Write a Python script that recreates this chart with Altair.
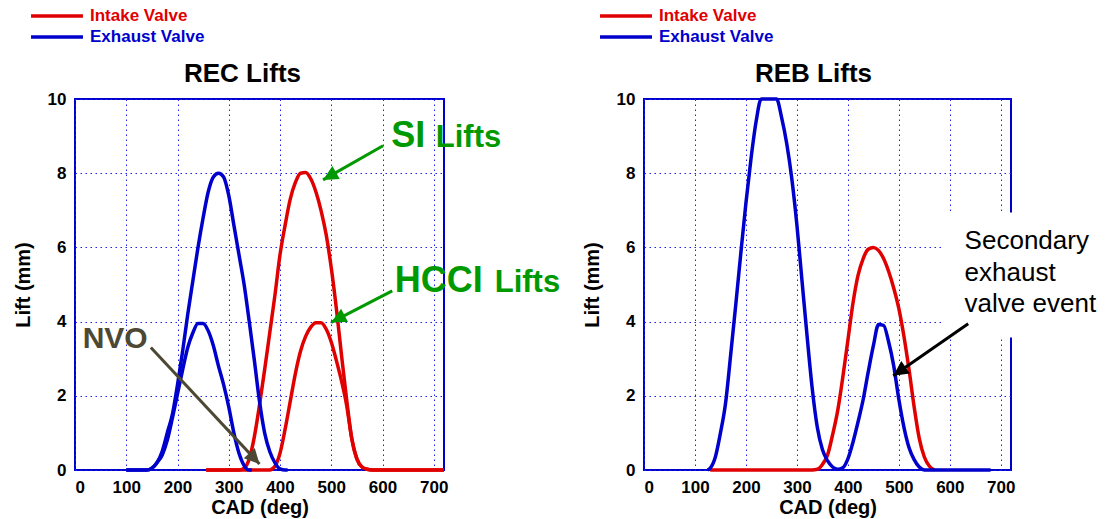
import math
import altair as alt
import pandas as pd

FONT = "Liberation Sans"
RED = "#e00000"
BLUE = "#0000cc"
GREEN = "#009900"
OLIVE = "#4d4833"

valves = ["Intake Valve", "Exhaust Valve"]

# ---------------- REC panel ----------------
rec_exh_si_cad = [100, 140, 150, 160, 170, 180, 190, 200, 210, 220, 230, 240, 250, 260, 270, 280,
                  290, 300, 310, 320, 330, 340, 350, 360, 370, 380, 390, 400, 410, 415]
rec_exh_si_lift = [0, 0, 0.05, 0.2, 0.5, 1.0, 1.5, 2.3, 3.2, 4.2, 5.1, 6.0, 6.8, 7.5, 7.9, 8.0,
                   7.9, 7.4, 6.6, 5.8, 5.0, 4.0, 2.95, 1.85, 1.0, 0.5, 0.2, 0.03, 0, 0]

rec_exh_hcci_cad = [100, 140, 150, 160, 170, 180, 190, 200, 210, 220, 230, 240, 250, 260, 270, 280,
                    290, 300, 310, 320, 330, 340, 345]
rec_exh_hcci_lift = [0, 0, 0.05, 0.2, 0.4, 0.8, 1.4, 2.05, 2.7, 3.3, 3.7, 3.95, 3.95, 3.75, 3.35, 2.8,
                     2.3, 1.7, 1.0, 0.45, 0.12, 0, 0]

rec_int_si_cad = [256, 320, 330, 340, 350, 360, 370, 380, 390, 400, 410, 420, 430, 440, 450, 460, 470,
                  480, 490, 500, 510, 520, 530, 540, 550, 560, 570, 580, 720]
rec_int_si_lift = [0, 0, 0.05, 0.3, 0.9, 1.75, 2.7, 3.7, 4.7, 5.8, 6.6, 7.3, 7.75, 8.0, 8.02, 7.85, 7.5,
                   7.0, 6.35, 5.45, 4.35, 3.1, 1.9, 0.85, 0.3, 0.08, 0.02, 0, 0]

rec_int_hcci_cad = [256, 380, 390, 400, 410, 420, 430, 440, 450, 460, 470, 480, 490, 500, 510, 520,
                    530, 540, 550, 560, 570, 580, 720]
rec_int_hcci_lift = [0, 0, 0.1, 0.45, 1.1, 1.85, 2.6, 3.2, 3.6, 3.85, 3.97, 3.97, 3.8, 3.45, 2.95, 2.4,
                     1.75, 0.85, 0.3, 0.08, 0.02, 0, 0]

# ---------------- REB panel ----------------
reb_exh_cad = [125, 130, 140, 150, 160, 170, 180, 190, 200, 210, 220, 230, 240, 250, 260, 270, 280,
               290, 300, 310, 320, 330, 340, 350, 360, 370, 380, 390, 400, 410, 420, 430, 440, 450,
               460, 470, 480, 490, 500, 510, 520, 530, 540, 550, 680]
reb_exh_lift = [0, 0.05, 0.35, 1.0, 1.8, 3.1, 4.45, 5.85, 7.2, 8.4, 9.4, 10.1, 10.5, 10.5, 10.1, 9.5, 8.8,
                7.85, 6.6, 5.1, 3.6, 2.2, 1.15, 0.55, 0.25, 0.08, 0.02, 0.06, 0.3, 0.75, 1.3, 1.9, 2.65, 3.35,
                3.92, 3.9, 3.45, 2.8, 1.9, 1.15, 0.6, 0.28, 0.08, 0, 0]

reb_int_cad = [130, 330, 340, 350, 360, 370, 380, 390, 400, 410, 420, 430, 440, 450, 460, 470, 480,
               490, 500, 510, 520, 530, 540, 550, 560, 570]
reb_int_lift = [0, 0, 0.02, 0.15, 0.4, 0.95, 1.6, 2.5, 3.5, 4.5, 5.25, 5.7, 5.95, 6.0, 5.92, 5.7, 5.35,
                4.9, 4.35, 3.6, 2.7, 1.7, 0.85, 0.35, 0.1, 0]

# ---------------- annotations ----------------
rec_big_text = ["SI", "HCCI"]
rec_big_cad = [617, 624]
rec_big_lift = [8.70, 4.81]
rec_small_text = ["Lifts", "Lifts"]
rec_small_cad = [704, 819]
rec_small_lift = [8.70, 4.81]
rec_nvo_text = ["NVO"]
rec_nvo_cad = [15]
rec_nvo_lift = [3.30]

rec_arrow_cad = [601, 619]
rec_arrow_lift = [8.74, 4.83]
rec_arrow_tip_cad = [484, 500]
rec_arrow_tip_lift = [7.82, 3.98]
nvo_arrow_cad = [148]
nvo_arrow_lift = [3.30]
nvo_arrow_tip_cad = [360]
nvo_arrow_tip_lift = [0.16]

reb_note_text = ["Secondary\nexhaust\nvalve event"]
reb_note_cad = [629]
reb_note_lift = [5.96]
reb_box_cad = [585]
reb_box_cad2 = [760]
reb_box_lift = [3.57]
reb_box_lift2 = [6.94]
reb_arrow_cad = [636]
reb_arrow_lift = [3.94]
reb_arrow_tip_cad = [489]
reb_arrow_tip_lift = [2.54]

W_L, W_R, H = 369, 367, 371
XMAX = 720
YMAX = 10

ARROW_PATH = "M0,0 L0.5,1 L-0.5,1 Z"


def series_frame(parts):
    rows = []
    for name, valve, cads, lifts in parts:
        for c, l in zip(cads, lifts):
            rows.append({"curve": name, "valve": valve, "cad": c, "lift": l})
    return pd.DataFrame(rows)


def arrow_frame(x0, y0, x1, y1, width):
    rows = []
    for a, b, c, d in zip(x0, y0, x1, y1):
        dxp = (c - a) * width / XMAX
        dyp = -(d - b) * H / YMAX
        ang = math.degrees(math.atan2(dxp, -dyp)) % 360
        rows.append({"x0": a, "y0": b, "x1": c, "y1": d, "angle": ang})
    return pd.DataFrame(rows)


def xenc(field="cad"):
    return alt.X(f"{field}:Q", scale=alt.Scale(domain=[0, XMAX], nice=False),
                 axis=alt.Axis(values=list(range(0, 701, 100)), title="CAD (deg)"))


def yenc(clamp=False, field="lift"):
    return alt.Y(f"{field}:Q", scale=alt.Scale(domain=[0, YMAX], nice=False, clamp=clamp),
                 axis=alt.Axis(values=list(range(0, 11, 2)), title="Lift (mm)"))


legend = alt.Legend(
    title=None, orient="none", legendX=-46, legendY=-93, direction="vertical",
    symbolType="stroke", symbolSize=2700, symbolStrokeWidth=3.5, clipHeight=20,
    labelFont=FONT, labelFontSize=17, labelFontWeight="bold",
    labelColor=alt.ExprRef("datum.label == 'Intake Valve' ? '#e00000' : '#0000cc'"),
    labelOffset=5, rowPadding=1, padding=0,
)


def lines_layer(df, clamp=False):
    return alt.Chart(df).mark_line(strokeWidth=3.5, interpolate="monotone").encode(
        x=xenc(), y=yenc(clamp),
        color=alt.Color("valve:N", scale=alt.Scale(domain=valves, range=[RED, BLUE]), legend=legend),
        detail="curve:N",
        order=alt.Order("cad:Q"),
    )


def arrow_layers(df, color):
    rule = alt.Chart(df).mark_rule(color=color, strokeWidth=3).encode(
        x=alt.X("x0:Q", scale=alt.Scale(domain=[0, XMAX], nice=False)),
        y=alt.Y("y0:Q", scale=alt.Scale(domain=[0, YMAX], nice=False)),
        x2="x1:Q", y2="y1:Q")
    head = alt.Chart(df).mark_point(shape=ARROW_PATH, filled=True, size=900, color=color,
                                    opacity=1, strokeWidth=0).encode(
        x=alt.X("x1:Q", scale=alt.Scale(domain=[0, XMAX], nice=False)),
        y=alt.Y("y1:Q", scale=alt.Scale(domain=[0, YMAX], nice=False)),
        angle=alt.Angle("angle:Q", scale=None))
    return [rule, head]


def text_layer(texts, cads, lifts, size, color, weight="bold", **kw):
    df = pd.DataFrame({"t": texts, "cad": cads, "lift": lifts})
    return alt.Chart(df).mark_text(align="left", baseline="alphabetic", font=FONT, fontSize=size,
                                   fontWeight=weight, color=color, **kw).encode(
        x=alt.X("cad:Q", scale=alt.Scale(domain=[0, XMAX], nice=False)),
        y=alt.Y("lift:Q", scale=alt.Scale(domain=[0, YMAX], nice=False)),
        text="t:N")


def panel_title(text, dx):
    return alt.TitleParams(text, font=FONT, fontSize=26, fontWeight="bold", color="black",
                           anchor="middle", frame="group", dx=dx, offset=-81)


# ----- REC chart -----
rec_df = series_frame([
    ("int_si", "Intake Valve", rec_int_si_cad, rec_int_si_lift),
    ("int_hcci", "Intake Valve", rec_int_hcci_cad, rec_int_hcci_lift),
    ("exh_si", "Exhaust Valve", rec_exh_si_cad, rec_exh_si_lift),
    ("exh_hcci", "Exhaust Valve", rec_exh_hcci_cad, rec_exh_hcci_lift),
])
rec_layers = [lines_layer(rec_df)]
rec_layers += arrow_layers(arrow_frame(rec_arrow_cad, rec_arrow_lift, rec_arrow_tip_cad, rec_arrow_tip_lift, W_L), GREEN)
rec_layers += arrow_layers(arrow_frame(nvo_arrow_cad, nvo_arrow_lift, nvo_arrow_tip_cad, nvo_arrow_tip_lift, W_L), OLIVE)
rec_layers.append(text_layer(rec_big_text, rec_big_cad, rec_big_lift, 36, GREEN))
rec_layers.append(text_layer(rec_small_text, rec_small_cad, rec_small_lift, 31, GREEN))
rec_layers.append(text_layer(rec_nvo_text, rec_nvo_cad, rec_nvo_lift, 30, OLIVE))

rec = alt.layer(*rec_layers).properties(width=W_L, height=H, title=panel_title("REC Lifts", -17))

# ----- REB chart -----
reb_df = series_frame([
    ("int", "Intake Valve", reb_int_cad, reb_int_lift),
    ("exh", "Exhaust Valve", reb_exh_cad, reb_exh_lift),
])
box_df = pd.DataFrame({"a": reb_box_cad, "b": reb_box_cad2, "c": reb_box_lift, "d": reb_box_lift2})
box = alt.Chart(box_df).mark_rect(color="white", opacity=1).encode(
    x=alt.X("a:Q", scale=alt.Scale(domain=[0, XMAX], nice=False)), x2="b:Q",
    y=alt.Y("c:Q", scale=alt.Scale(domain=[0, YMAX], nice=False)), y2="d:Q")
reb_layers = [lines_layer(reb_df, clamp=True), box]
reb_layers += arrow_layers(arrow_frame(reb_arrow_cad, reb_arrow_lift, reb_arrow_tip_cad, reb_arrow_tip_lift, W_R), "black")
reb_layers.append(text_layer(reb_note_text, reb_note_cad, reb_note_lift, 26, "black", weight="normal",
                             lineBreak="\n", lineHeight=31.7))

reb = alt.layer(*reb_layers).properties(width=W_R, height=H, title=panel_title("REB Lifts", -14))

chart = alt.hconcat(rec, reb, spacing=19).resolve_legend(color="independent").properties(
    padding={"left": 12, "top": 5, "right": 0, "bottom": 0},
    background="white",
).configure_view(stroke=BLUE, strokeWidth=2).configure_axis(
    labelFont=FONT, labelFontSize=17, labelFontWeight="bold", labelColor="black",
    titleFont=FONT, titleFontSize=20, titleFontWeight="bold", titleColor="black",
    grid=True, gridColor="#2020ee", gridDash=[1.5, 3.5], gridWidth=1,
    ticks=False, domain=False, labelPadding=9,
).configure_axisX(titlePadding=2).configure_axisY(titlePadding=14)

chart.save("out.html", embed_options={"renderer": "svg", "actions": False})
